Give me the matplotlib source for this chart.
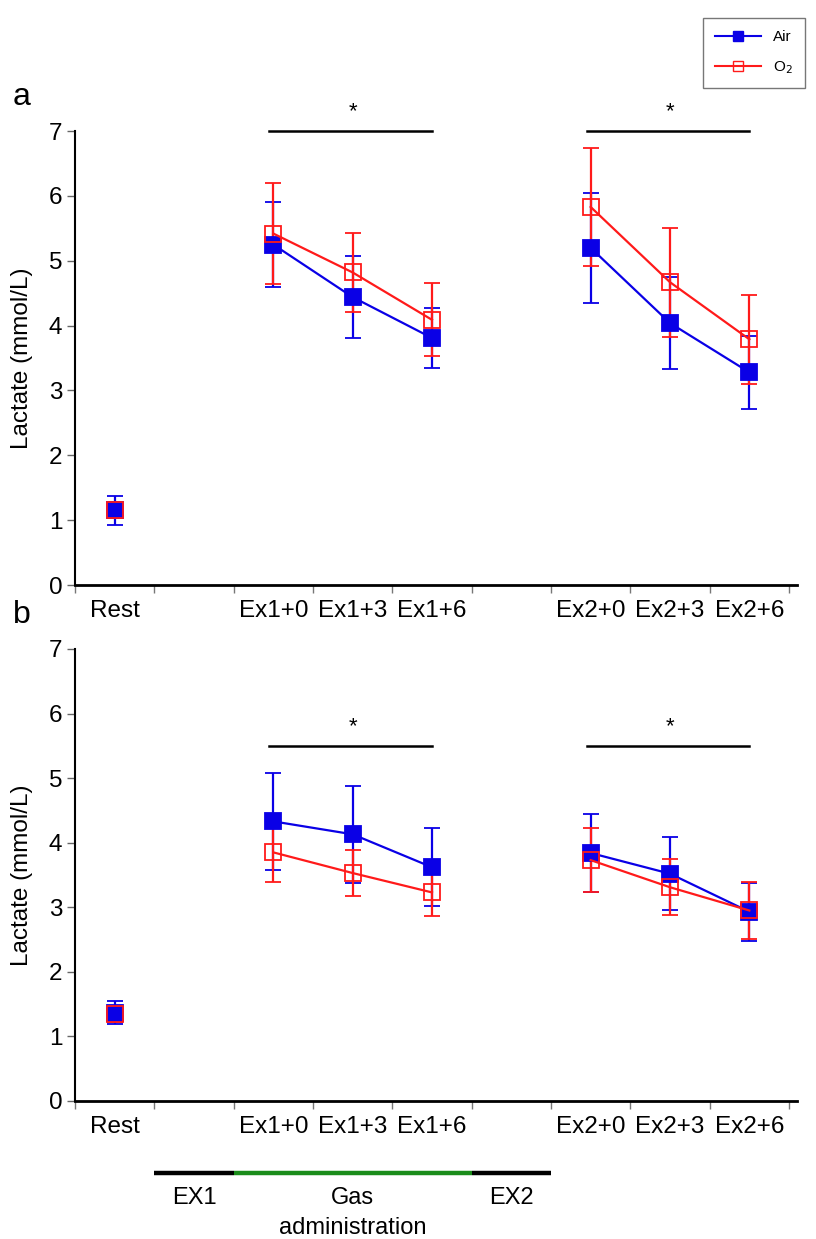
import numpy as np
import matplotlib.pyplot as plt
import matplotlib.transforms as mtransforms
from matplotlib.lines import Line2D

plt.rcParams['font.family'] = ['Liberation Sans', 'DejaVu Sans']

labels = ['Rest', 'Ex1+0', 'Ex1+3', 'Ex1+6', 'Ex2+0', 'Ex2+3', 'Ex2+6']
slots = [0, 2, 3, 4, 6, 7, 8]          # slot of each sample on the 9-slot axis
groups = [[0], [1, 2, 3], [4, 5, 6]]    # points joined by a line

# panel a
a_air = [1.15, 5.25, 4.44, 3.81, 5.20, 4.04, 3.28]
a_air_sd = [0.23, 0.65, 0.63, 0.46, 0.85, 0.71, 0.56]
a_o2 = [1.15, 5.42, 4.82, 4.09, 5.83, 4.67, 3.79]
a_o2_sd = [0.12, 0.78, 0.61, 0.56, 0.91, 0.84, 0.69]
a_sig = [7.0, 7.0]

# panel b
b_air = [1.37, 4.33, 4.13, 3.62, 3.84, 3.52, 2.93]
b_air_sd = [0.18, 0.75, 0.75, 0.60, 0.60, 0.57, 0.45]
b_o2 = [1.35, 3.85, 3.53, 3.23, 3.73, 3.31, 2.95]
b_o2_sd = [0.12, 0.46, 0.36, 0.37, 0.50, 0.43, 0.44]
b_sig = [5.5, 5.5]

BLUE = '#0a00e6'
RED = '#ff1a1a'


def draw_panel(ax, air, air_sd, o2, o2_sd, sig, letter):
    x = np.array(slots) + 0.5
    for vals, sd, col, face in [(air, air_sd, BLUE, BLUE), (o2, o2_sd, RED, 'none')]:
        vals = np.array(vals)
        sd = np.array(sd)
        for g in groups:
            ax.errorbar(x[g], vals[g], yerr=sd[g], color=col, lw=1.6,
                        elinewidth=1.6, capsize=6, capthick=1.6,
                        marker='s', ms=12, mfc=face, mec=col, mew=1.3,
                        clip_on=False, zorder=3)

    # significance bars
    for (i0, i1), y in zip([(1, 3), (4, 6)], sig):
        ax.plot([x[i0] - 0.05, x[i1]], [y, y], color='black', lw=1.8,
                clip_on=False)
        ax.text((x[i0] + x[i1]) / 2, y + 0.3, '*', ha='center', va='center',
                fontsize=16, clip_on=False)

    ax.set_xlim(0, 9)
    ax.set_ylim(0, 7)
    ax.set_yticks(range(8))
    ax.tick_params(axis='y', labelsize=17.5, length=6, width=1, color='#666666', pad=3)
    ax.set_xticks(range(10))
    ax.set_xticklabels([])
    ax.set_xticks(x, labels, minor=True)
    ax.tick_params(axis='x', which='major', length=6, width=1, color='#777777')
    ax.tick_params(axis='x', which='minor', length=0, labelsize=17.5, pad=11)
    for s in ['top', 'right']:
        ax.spines[s].set_visible(False)
    ax.spines['left'].set_linewidth(1.5)
    ax.spines['bottom'].set_linewidth(2)
    ax.spines['bottom'].set_bounds(0, 9.1)
    ax.set_ylabel('Lactate (mmol/L)', fontsize=17.5)
    ax.yaxis.set_label_coords(-0.059, 0.5)
    ax.text(-0.075, 1.075, letter, transform=ax.transAxes, fontsize=23,
            ha='center', va='center')


fig = plt.figure(figsize=(8.16, 12.39), dpi=100)
ax_a = fig.add_axes([0.0919, 0.5278, 0.875, 0.3664])
ax_b = fig.add_axes([0.0919, 0.1114, 0.875, 0.3648])

draw_panel(ax_a, a_air, a_air_sd, a_o2, a_o2_sd, a_sig, 'a')
draw_panel(ax_b, b_air, b_air_sd, b_o2, b_o2_sd, b_sig, 'b')

# legend
handles = [Line2D([], [], color=BLUE, lw=1.5, marker='s', ms=7, mfc=BLUE, mec=BLUE),
           Line2D([], [], color=RED, lw=1.5, marker='s', ms=7, mfc='none', mec=RED)]
leg = fig.legend(handles, ['Air', 'O$_2$'], loc='upper right',
                 bbox_to_anchor=(813 / 816, 1 - 10 / 1239), fontsize=11,
                 fancybox=False, edgecolor='#555555', handlelength=3,
                 borderpad=0.8, labelspacing=1.0)
leg.get_frame().set_linewidth(1.0)

# protocol bar under panel b
trans = mtransforms.blended_transform_factory(ax_b.transData, fig.transFigure)
ybar = 1 - 1173 / 1239
for (x0, x1), col in zip([(1, 2), (2, 5), (5, 6)], ['black', '#1a8c1a', 'black']):
    ax_b.plot([x0, x1], [ybar, ybar], color=col, lw=3.2, transform=trans,
              clip_on=False, solid_capstyle='butt')
ax_b.text(1.5, 1 - 1198 / 1239, 'EX1', transform=trans, ha='center', va='center', fontsize=17)
ax_b.text(3.5, 1 - 1198 / 1239, 'Gas', transform=trans, ha='center', va='center', fontsize=17)
ax_b.text(3.5, 1 - 1228 / 1239, 'administration', transform=trans, ha='center', va='center', fontsize=17)
ax_b.text(5.5, 1 - 1198 / 1239, 'EX2', transform=trans, ha='center', va='center', fontsize=17)

fig.savefig('out.png', dpi=100)
